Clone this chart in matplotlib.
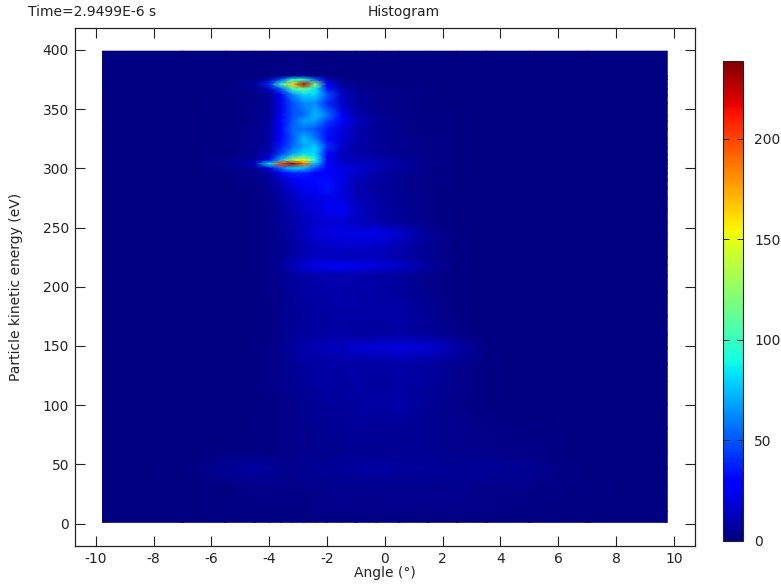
import numpy as np
import matplotlib
matplotlib.use("Agg")
import matplotlib.pyplot as plt

angle = [-9.77, -7, -5.5, -4.5, -4, -3.6, -3.2, -2.8, -2.4, -2, -1.5, -1, -0.3, 0.5, 1.5, 2.5, 3.5, 5, 7, 9.77]
energy = [399, 378, 375, 371, 367, 362, 355, 345, 340, 333, 325, 318, 312, 307, 304, 300, 296, 290, 283, 275,
          265, 255, 245, 235, 225, 218, 210, 195, 175, 160, 149, 135, 120, 100, 80, 60, 47, 30, 10, 1]
counts = [
 [0,0,0,0,0,0,0,0,0,0,0,0,0,0,0,0,0,0,0,0],
 [0,0,0,0,1,2,3,3,2,1,0,0,0,0,0,0,0,0,0,0],
 [0,0,0,2,10,45,90,95,50,12,3,1,0,0,0,0,0,0,0,0],
 [0,0,1,6,40,100,165,228,125,30,7,3,2,1,1,0,0,0,0,0],
 [0,0,1,3,13,50,100,115,85,35,10,4,2,2,1,0,0,0,0,0],
 [0,0,1,2,5,26,60,80,80,50,16,6,3,2,1,0,0,0,0,0],
 [0,0,1,2,5,22,48,62,62,40,15,7,3,2,1,0,0,0,0,0],
 [0,0,1,2,5,25,48,55,75,58,25,10,4,2,1,1,0,0,0,0],
 [0,0,1,2,6,28,50,70,66,45,28,15,6,3,1,1,0,0,0,0],
 [0,0,1,3,7,28,55,56,50,35,20,10,5,3,1,1,0,0,0,0],
 [0,0,1,3,8,30,50,75,58,32,18,11,6,3,2,1,0,0,0,0],
 [0,0,1,3,9,36,55,70,80,42,16,9,5,3,2,1,0,0,0,0],
 [0,0,1,4,12,45,70,84,80,30,14,10,7,4,2,1,0,0,0,0],
 [0,0,2,7,25,75,130,150,90,28,15,13,10,6,2,1,0,0,0,0],
 [0,1,3,14,85,200,232,190,75,28,16,14,13,8,3,1,0,0,0,0],
 [0,0,2,5,20,55,80,75,48,28,22,18,11,6,2,1,0,0,0,0],
 [0,0,1,3,8,24,38,38,30,26,22,15,9,5,2,1,0,0,0,0],
 [0,0,1,2,5,14,24,28,32,32,22,13,8,4,2,1,0,0,0,0],
 [0,0,0,2,4,10,18,24,26,34,20,11,7,4,2,0,0,0,0,0],
 [0,0,0,1,3,8,14,19,21,23,20,13,8,5,2,0,0,0,0,0],
 [0,0,0,1,2,6,11,15,18,24,27,15,9,5,2,0,0,0,0,0],
 [0,0,0,1,2,5,9,13,15,17,17,14,10,6,2,0,0,0,0,0],
 [0,0,0,1,2,5,8,14,18,20,22,22,23,16,5,1,0,0,0,0],
 [0,0,0,1,2,4,7,11,14,15,16,16,15,11,5,1,0,0,0,0],
 [0,0,0,1,2,4,8,12,14,14,13,12,13,9,4,1,0,0,0,0],
 [0,0,0,1,2,6,12,18,22,24,26,24,20,16,7,1,0,0,0,0],
 [0,0,0,1,2,4,7,9,10,11,11,10,9,7,3,1,0,0,0,0],
 [0,0,0,1,2,3,6,8,8,9,10,9,8,7,3,1,0,0,0,0],
 [0,0,0,1,1,3,5,6,7,7,8,8,8,9,5,1,0,0,0,0],
 [0,0,0,1,1,3,5,7,7,8,8,7,7,8,6,2,0,0,0,0],
 [0,0,0,1,2,4,7,10,12,13,14,17,19,20,18,9,1,0,0,0],
 [0,0,0,1,2,3,5,7,8,8,8,8,8,9,7,4,1,0,0,0],
 [0,0,0,1,2,3,4,6,7,8,7,9,7,8,7,3,1,0,0,0],
 [0,0,0,1,1,2,3,4,5,6,6,7,8,9,5,2,1,0,0,0],
 [0,0,0,1,1,2,3,3,4,4,5,6,5,5,4,3,2,1,0,0],
 [0,0,1,1,1,2,2,3,3,3,4,4,4,4,4,3,2,2,0,0],
 [0,1,5,8,6,4,3,4,5,5,6,7,8,7,6,5,6,4,0,0],
 [0,0,1,2,2,2,2,2,2,3,3,3,3,3,3,3,2,2,1,0],
 [0,0,1,1,1,1,1,1,2,2,2,2,2,2,2,2,2,1,0,0],
 [0,0,0,0,0,0,0,0,0,0,0,0,0,0,0,0,0,0,0,0],
]
x_ticks = [-10, -8, -6, -4, -2, 0, 2, 4, 6, 8, 10]
y_ticks = [0, 50, 100, 150, 200, 250, 300, 350, 400]
cbar_ticks = [0, 50, 100, 150, 200]
W, H = 781, 584
ink = "#222222"

plt.rcParams.update({"font.family": "DejaVu Sans", "font.size": 10, "text.color": ink,
                     "axes.unicode_minus": False})
fig = plt.figure(figsize=(W / 100, H / 100), dpi=100)


def box(l, t, r, b):
    return [l / W, 1 - b / H, (r - l) / W, (b - t) / H]


ax = fig.add_axes(box(74.5, 27.5, 695, 546))
mesh = ax.pcolormesh(angle, energy, np.array(counts, float), shading="gouraud",
                     cmap="jet", vmin=0, vmax=239, rasterized=True)
ax.set_xlim(-10.74, 10.73)
ax.set_ylim(-19, 419)
ax.set_xticks(x_ticks)
ax.set_yticks(y_ticks)
ax.tick_params(direction="in", length=7, width=0.8, top=True, right=True, colors=ink, pad=4)
for s in ax.spines.values():
    s.set_linewidth(0.9)
    s.set_color(ink)
fig.text(385 / W, 1 - 573 / H, "Angle (°)", ha="center", va="center")
fig.text(16 / W, 1 - 287 / H, "Particle kinetic energy (eV)", rotation=90, ha="center", va="center")
fig.text(28 / W, 1 - 12 / H, "Time=2.9499E-6 s", ha="left", va="center")
fig.text(404 / W, 1 - 12 / H, "Histogram", ha="center", va="center")

cax = fig.add_axes(box(722.5, 60.5, 743, 541))
cb = fig.colorbar(mesh, cax=cax)
cb.set_ticks(cbar_ticks)
cax.tick_params(direction="in", length=4, width=0.7, left=True, right=True, colors=ink, pad=8)
cb.outline.set_linewidth(0.8)
cb.outline.set_edgecolor(ink)

fig.savefig("out.png", dpi=100)
